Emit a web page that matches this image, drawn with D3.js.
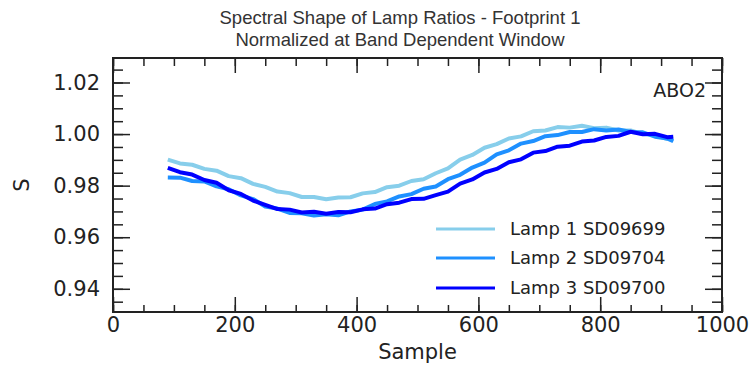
<!DOCTYPE html>
<html>
<head>
<meta charset="utf-8">
<script src="https://cdn.jsdelivr.net/npm/d3@7"></script>
<style>
  body { margin: 0; background: #fff; }
  text { fill: #222; }
</style>
</head>
<body>
<div id="chart"></div>
<script>
// sample positions of the read-off points
const samples = [90, 110, 130, 150, 170, 190, 210, 230, 250, 270, 290, 310, 330, 350, 370, 390, 410, 430, 450, 470,
    490, 510, 530, 550, 570, 590, 610, 630, 650, 670, 690, 710, 730, 750, 770, 790, 810, 830, 850, 870, 890, 910, 920]

const lamp1 = [0.9901, 0.9886, 0.9881, 0.9865, 0.9858, 0.9837, 0.9829, 0.9807, 0.9795, 0.9777, 0.9771, 0.9756,
    0.9756, 0.9747, 0.9754, 0.9755, 0.9770, 0.9775, 0.9794, 0.9800, 0.9818, 0.9825, 0.9848, 0.9867, 0.9901,
    0.9919, 0.9947, 0.9961, 0.9983, 0.9991, 1.0011, 1.0014, 1.0027, 1.0025, 1.0032, 1.0023, 1.0025, 1.0014,
    1.0014, 1.0000, 0.9996, 0.9981, 0.9979]

const lamp2 = [0.9832, 0.9831, 0.9818, 0.9816, 0.9797, 0.9786, 0.9762, 0.9748, 0.9719, 0.9711, 0.9694, 0.9693,
    0.9684, 0.9689, 0.9685, 0.9700, 0.9707, 0.9729, 0.9739, 0.9758, 0.9767, 0.9788, 0.9797, 0.9825, 0.9842,
    0.9870, 0.9889, 0.9921, 0.9937, 0.9963, 0.9973, 0.9992, 0.9996, 1.0008, 1.0008, 1.0019, 1.0014, 1.0018,
    1.0008, 1.0007, 0.9990, 0.9983, 0.9972]

const lamp3 = [0.9869, 0.9852, 0.9843, 0.9822, 0.9811, 0.9782, 0.9768, 0.9742, 0.9725, 0.9709, 0.9707, 0.9696,
    0.9699, 0.9691, 0.9698, 0.9697, 0.9708, 0.9711, 0.9728, 0.9734, 0.9748, 0.9749, 0.9763, 0.9777, 0.9808,
    0.9824, 0.9851, 0.9865, 0.9891, 0.9902, 0.9928, 0.9934, 0.9951, 0.9955, 0.9971, 0.9975, 0.9989, 0.9993,
    1.0009, 0.9999, 1.0001, 0.9988, 0.9990]

const seriesNames = ["Lamp 1 SD09699", "Lamp 2 SD09704", "Lamp 3 SD09700"]
const seriesColors = ["#87ceeb", "#1e90ff", "#0000ff"]

const xTicks = [0, 200, 400, 600, 800, 1000]
const yTicks = [0.94, 0.96, 0.98, 1.00, 1.02]

const W = 751, H = 365
const margin = { top: 58, right: 29, bottom: 53, left: 113 }
const width = W - margin.left - margin.right
const height = H - margin.top - margin.bottom

const svg = d3.select("#chart").append("svg")
    .attr("width", W)
    .attr("height", H)

const x = d3.scaleLinear().domain([0, 1000]).range([0, width])
const y = d3.scaleLinear().domain([0.931, 1.0295]).range([height, 0])

const g = svg.append("g")
    .attr("transform", `translate(${margin.left}, ${margin.top})`)

/* TITLE */
const title = svg.append("text")
    .attr("x", 400)
    .attr("text-anchor", "middle")
    .style("font-family", "'Liberation Sans', Arial, sans-serif")
    .style("font-size", "18.5px")
    .style("fill", "#333")
title.append("tspan").attr("x", 400).attr("y", 24).text("Spectral Shape of Lamp Ratios - Footprint 1")
title.append("tspan").attr("x", 400).attr("y", 46).text("Normalized at Band Dependent Window")

/* LINES */
const data = [lamp1, lamp2, lamp3]
const line = d3.line()
    .x((d, i) => x(samples[i]))
    .y(d => y(d))

g.append("defs").append("clipPath").attr("id", "clip")
    .append("rect").attr("width", width).attr("height", height)

data.forEach((vals, k) => {
    g.append("path")
        .datum(vals)
        .attr("clip-path", "url(#clip)")
        .attr("fill", "none")
        .attr("stroke", seriesColors[k])
        .attr("stroke-width", 4)
        .attr("stroke-linejoin", "round")
        .attr("d", line)
})

/* AXES (ticks pointing inward, mirrored) */
const axisFont = "'DejaVu Sans', sans-serif"
const xMinor = d3.range(0, 1001, 50)
const yMinor = d3.range(0.935, 1.0295, 0.005)

function tickStyle(sel) {
    sel.selectAll("line").attr("stroke", "#222").attr("stroke-width", 1.5)
    sel.select(".domain").remove()
}

// bottom
g.append("g").attr("transform", `translate(0, ${height})`)
    .call(d3.axisTop(x).tickValues(xMinor).tickSize(7).tickFormat(""))
    .call(tickStyle)
g.append("g").attr("transform", `translate(0, ${height})`)
    .call(d3.axisTop(x).tickValues(xTicks).tickSize(15).tickFormat(""))
    .call(tickStyle)
g.append("g").attr("transform", `translate(0, ${height})`)
    .call(d3.axisBottom(x).tickValues(xTicks).tickSize(0).tickPadding(5).tickFormat(d3.format("d")))
    .call(tickStyle)
    .selectAll("text").style("font-family", axisFont).style("font-size", "21px").style("fill", "#222")
// top
g.append("g")
    .call(d3.axisBottom(x).tickValues(xMinor).tickSize(8).tickFormat(""))
    .call(tickStyle)
g.append("g")
    .call(d3.axisBottom(x).tickValues(xTicks).tickSize(15).tickFormat(""))
    .call(tickStyle)
// left
g.append("g")
    .call(d3.axisRight(y).tickValues(yMinor).tickSize(10).tickFormat(""))
    .call(tickStyle)
g.append("g")
    .call(d3.axisRight(y).tickValues(yTicks).tickSize(17).tickFormat(""))
    .call(tickStyle)
g.append("g")
    .call(d3.axisLeft(y).tickValues(yTicks).tickSize(0).tickPadding(13).tickFormat(d3.format(".2f")))
    .call(tickStyle)
    .selectAll("text").style("font-family", axisFont).style("font-size", "21px").style("fill", "#222")
// right
g.append("g").attr("transform", `translate(${width}, 0)`)
    .call(d3.axisLeft(y).tickValues(yMinor).tickSize(10).tickFormat(""))
    .call(tickStyle)
g.append("g").attr("transform", `translate(${width}, 0)`)
    .call(d3.axisLeft(y).tickValues(yTicks).tickSize(17).tickFormat(""))
    .call(tickStyle)

// frame
g.append("rect")
    .attr("width", width)
    .attr("height", height)
    .attr("fill", "none")
    .attr("stroke", "#222")
    .attr("stroke-width", 2)

/* AXIS TITLES */
svg.append("text")
    .attr("x", margin.left + width / 2)
    .attr("y", 359)
    .attr("text-anchor", "middle")
    .style("font-family", axisFont)
    .style("font-size", "21px")
    .text("Sample")

svg.append("text")
    .attr("transform", `translate(29, ${margin.top + height / 2}) rotate(-90)`)
    .attr("text-anchor", "middle")
    .style("font-family", axisFont)
    .style("font-size", "21px")
    .text("S")

/* ANNOTATION */
svg.append("text")
    .attr("x", 706)
    .attr("y", 97)
    .attr("text-anchor", "end")
    .style("font-family", axisFont)
    .style("font-size", "19px")
    .text("ABO2")

/* LEGEND */
const legendY = [229, 258, 288]
const legend = svg.append("g")
seriesNames.forEach((name, k) => {
    legend.append("line")
        .attr("x1", 436).attr("x2", 495)
        .attr("y1", legendY[k]).attr("y2", legendY[k])
        .attr("stroke", seriesColors[k])
        .attr("stroke-width", 3)
    legend.append("text")
        .attr("x", 510)
        .attr("y", legendY[k])
        .attr("dy", "0.35em")
        .style("font-family", axisFont)
        .style("font-size", "18px")
        .text(name)
})
</script>
</body>
</html>
